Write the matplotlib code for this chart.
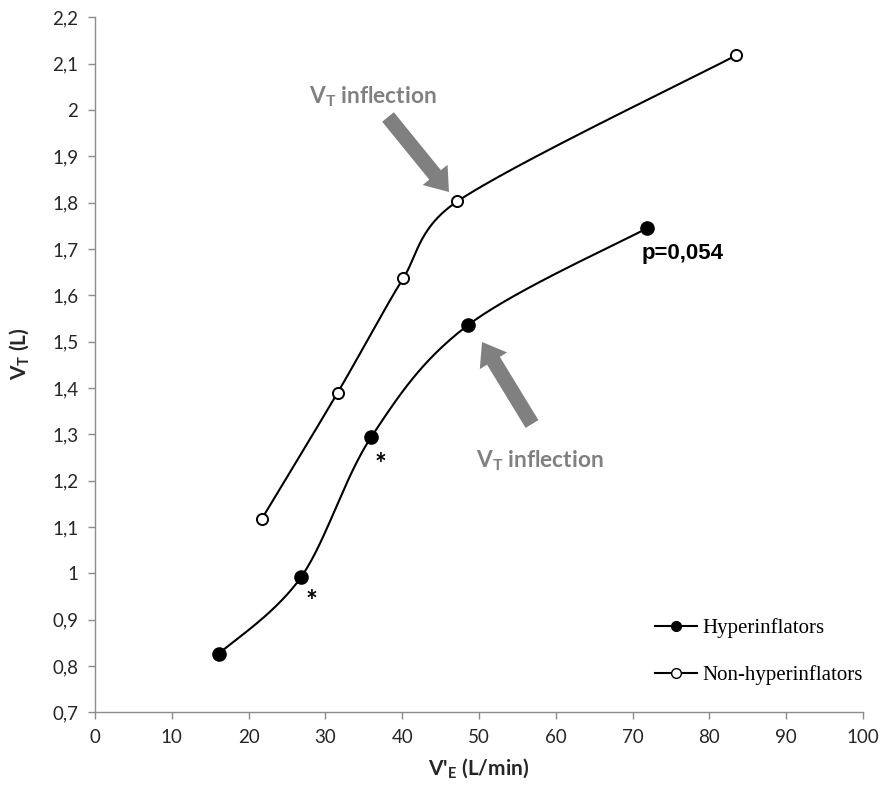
import numpy as np
import matplotlib
matplotlib.use("Agg")
import matplotlib.pyplot as plt
from matplotlib.lines import Line2D
from matplotlib.patches import FancyArrow

# ---- data ----
hyper_x = [16.1, 26.8, 36.0, 48.6, 71.9]
hyper_y = [0.826, 0.991, 1.295, 1.536, 1.745]
non_x = [21.7, 31.6, 40.15, 47.2, 83.5]
non_y = [1.117, 1.390, 1.637, 1.803, 2.118]
xticks = [0, 10, 20, 30, 40, 50, 60, 70, 80, 90, 100]
yticks = [0.7, 0.8, 0.9, 1.0, 1.1, 1.2, 1.3, 1.4, 1.5, 1.6, 1.7, 1.8, 1.9, 2.0, 2.1, 2.2]
ytick_labels = ["0,7", "0,8", "0,9", "1", "1,1", "1,2", "1,3", "1,4", "1,5", "1,6",
                "1,7", "1,8", "1,9", "2", "2,1", "2,2"]
series_names = ["Hyperinflators", "Non-hyperinflators"]

plt.rcParams['mathtext.fontset'] = 'custom'
plt.rcParams['mathtext.bf'] = 'Lato:bold'
plt.rcParams['mathtext.rm'] = 'Lato'

fig = plt.figure(figsize=(8.94, 7.93), dpi=100)
ax = fig.add_axes([95/894, 1-712.3/793, (863-95)/894, (712.3-17.3)/793])
ax.set_xlim(0, 100)
ax.set_ylim(0.7, 2.2)

def smooth(xs, ys, n=50):
    pts = ax.transData.transform(np.column_stack([xs, ys]))
    P = np.vstack([pts[0], pts, pts[-1]])
    out = []
    t = np.linspace(0, 1, n)[:, None]
    for i in range(1, len(P) - 2):
        p0, p1, p2, p3 = P[i-1], P[i], P[i+1], P[i+2]
        d12 = np.linalg.norm(p2 - p1)
        d02 = np.linalg.norm(p2 - p0)
        d13 = np.linalg.norm(p3 - p1)
        c0 = d02 / 6 >= d12 / 2
        c3 = d13 / 6 >= d12 / 2
        if not c0 and not c3:
            f0 = f3 = 1 / 6
        elif c0 and c3:
            f0 = d12 / 2 / d02
            f3 = d12 / 2 / d13
        elif c0:
            f0 = d12 / 2 / d02
            f3 = f0
        else:
            f3 = d12 / 2 / d13
            f0 = f3
        b1 = p1 + (p2 - p0) * f0
        b2 = p2 - (p3 - p1) * f3
        seg = ((1-t)**3)*p1 + 3*((1-t)**2)*t*b1 + 3*(1-t)*t**2*b2 + t**3*p2
        out.append(seg)
    out = np.vstack(out)
    d = ax.transData.inverted().transform(out)
    return d[:, 0], d[:, 1]

sx, sy = smooth(non_x, non_y)
ax.plot(sx, sy, color='black', lw=1.5, zorder=2)
sx, sy = smooth(hyper_x, hyper_y)
ax.plot(sx, sy, color='black', lw=1.5, zorder=2)
ax.plot(non_x, non_y, 'o', ms=8, mfc='white', mec='black', mew=1.4, zorder=3)
ax.plot(hyper_x, hyper_y, 'o', ms=9.5, mfc='black', mec='black', zorder=3)

spine_c = '#8c8c8c'
for s in ['top', 'right']:
    ax.spines[s].set_visible(False)
for s in ['left', 'bottom']:
    ax.spines[s].set_color(spine_c)
    ax.spines[s].set_linewidth(1.0)
ax.set_xticks(xticks)
ax.set_xticklabels([str(v) for v in xticks])
ax.set_yticks(yticks)
ax.set_yticklabels(ytick_labels)
ax.tick_params(axis='both', direction='out', length=5, width=1.0, color=spine_c,
               labelsize=13.5, labelcolor='#262626')
for lab in ax.get_xticklabels() + ax.get_yticklabels():
    lab.set_fontfamily('Lato')
ax.tick_params(axis='x', pad=7)
ax.tick_params(axis='y', pad=7)

ax.set_xlabel(r"V'$_{\mathregular{E}}$ (L/min)", fontsize=15, fontweight='bold',
              family='Lato', color='#262626', labelpad=8)
ax.set_ylabel(r"V$_{\mathregular{T}}$ (L)", fontsize=15, fontweight='bold',
              family='Lato', color='#262626', labelpad=10)
ax.yaxis.set_label_coords(-(95-32)/768, 1 - (354-17.3)/695)

def px(x, y):
    return ax.transData.inverted().transform(fig.transFigure.transform((x/894, 1-y/793)))

gray = '#808080'
t1 = px(373, 97)
ax.text(t1[0], t1[1], r"$\mathbf{V_T}$ inflection", fontsize=16.3, fontweight='bold',
        family='Lato', color=gray, ha='center', va='center')
t2 = px(540, 461)
ax.text(t2[0], t2[1], r"$\mathbf{V_T}$ inflection", fontsize=16.3, fontweight='bold',
        family='Lato', color=gray, ha='center', va='center')

def block_arrow(tail, tip):
    a = fig.transFigure.transform((tail[0]/894, 1-tail[1]/793))
    b = fig.transFigure.transform((tip[0]/894, 1-tip[1]/793))
    fig.add_artist(FancyArrow(a[0], a[1], b[0]-a[0], b[1]-a[1], width=15,
                              head_width=32, head_length=22, length_includes_head=True,
                              color=gray, transform=None, lw=0))

block_arrow((388, 117), (449, 192))
block_arrow((532, 424), (482, 342))

pt = px(683, 254)
ax.text(pt[0], pt[1], "p=0,054", fontsize=16, fontweight='bold', family='Liberation Sans',
        color='black', ha='center', va='center')
s1 = px(380, 465)
ax.text(s1[0], s1[1], "*", fontsize=20, fontweight='bold', family='Lato', ha='center', va='center')
s2 = px(311, 602)
ax.text(s2[0], s2[1], "*", fontsize=20, fontweight='bold', family='Lato', ha='center', va='center')

handles = [Line2D([0], [0], color='black', lw=1.5, marker='o', ms=7, mfc='black', mec='black'),
           Line2D([0], [0], color='black', lw=1.5, marker='o', ms=7, mfc='white', mec='black', mew=1.0)]
leg = ax.legend(handles, series_names, loc='upper left', bbox_to_anchor=(645/894, 1-608/793),
                bbox_transform=fig.transFigure, frameon=False,
                prop={'family': 'Liberation Serif', 'size': 15},
                handlelength=2.0, handletextpad=0.25, labelspacing=1.3, borderpad=0)

fig.savefig("out.png", dpi=100)
